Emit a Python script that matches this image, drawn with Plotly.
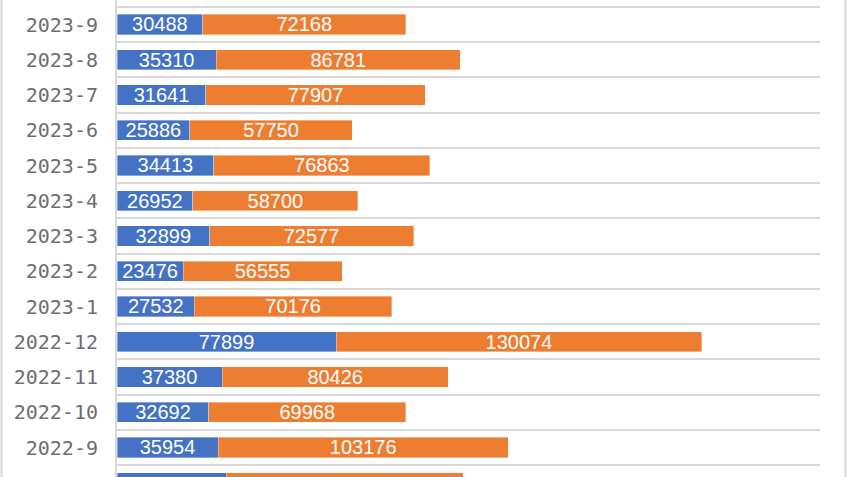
import plotly.graph_objects as go

months = ["2022-8", "2022-9", "2022-10", "2022-11", "2022-12", "2023-1", "2023-2",
          "2023-3", "2023-4", "2023-5", "2023-6", "2023-7", "2023-8", "2023-9", "2023-10"]
series_a = [38800, 35954, 32692, 37380, 77899, 27532, 23476,
            32899, 26952, 34413, 25886, 31641, 35310, 30488, 28800]
series_b = [84400, 103176, 69968, 80426, 130074, 70176, 56555,
            72577, 58700, 76863, 57750, 77907, 86781, 72168, 64800]
# first and last rows are only partly inside the frame; their labels are not visible
visible = [False] + [True] * 13 + [False]

idx = list(range(len(months)))
BLUE = "#4472C4"
ORANGE = "#ED7D31"
label_font = dict(family="Liberation Sans, Arial, sans-serif", size=20, color="white")

def labels(vals):
    return [str(v) if vis else "" for v, vis in zip(vals, visible)]

fig = go.Figure()
fig.add_trace(go.Bar(
    y=idx, x=series_a, orientation="h",
    marker=dict(color=BLUE, line=dict(width=0.6, color="rgba(255,255,255,0.6)")),
    text=labels(series_a), textposition="inside", insidetextanchor="middle",
    constraintext="none", textfont=label_font, hoverinfo="skip", name="A"))
fig.add_trace(go.Bar(
    y=idx, x=series_b, orientation="h",
    marker=dict(color=ORANGE, line=dict(width=0.6, color="rgba(255,255,255,0.6)")),
    text=labels(series_b), textposition="inside", insidetextanchor="middle",
    constraintext="none", textfont=label_font, hoverinfo="skip", name="B"))

fig.update_layout(
    barmode="stack",
    bargap=0.43,
    width=847, height=477,
    margin=dict(l=117, r=27, t=0, b=0),
    paper_bgcolor="white", plot_bgcolor="white",
    showlegend=False,
    xaxis=dict(range=[0, 250000], visible=False, fixedrange=True),
    yaxis=dict(
        range=[0.163, 13.695],
        tickmode="array", tickvals=idx, ticktext=months,
        tickfont=dict(family="DejaVu Sans Mono, monospace", size=20, color="#6E6E6E"),
        ticks="", showgrid=False, zeroline=False,
        showline=True, linecolor="#D9D9D9", linewidth=2,
        ticklabelstandoff=13,
        minor=dict(tickmode="array", tickvals=[i + 0.5 for i in idx[:-1]],
                   showgrid=True, gridcolor="#D9D9D9", gridwidth=2, ticks=""),
        fixedrange=True,
    ),
    shapes=[
        dict(type="line", xref="paper", yref="paper", x0=(1.5 - 117) / 703, x1=(1.5 - 117) / 703,
             y0=0, y1=1, line=dict(color="#D9D9D9", width=2)),
        dict(type="line", xref="paper", yref="paper", x0=(845.5 - 117) / 703, x1=(845.5 - 117) / 703,
             y0=0, y1=1, line=dict(color="#D9D9D9", width=2)),
    ],
)

fig.write_html("out.html", config={"displayModeBar": False},
               post_script="document.body.style.margin='0px';document.body.style.padding='0px';")
